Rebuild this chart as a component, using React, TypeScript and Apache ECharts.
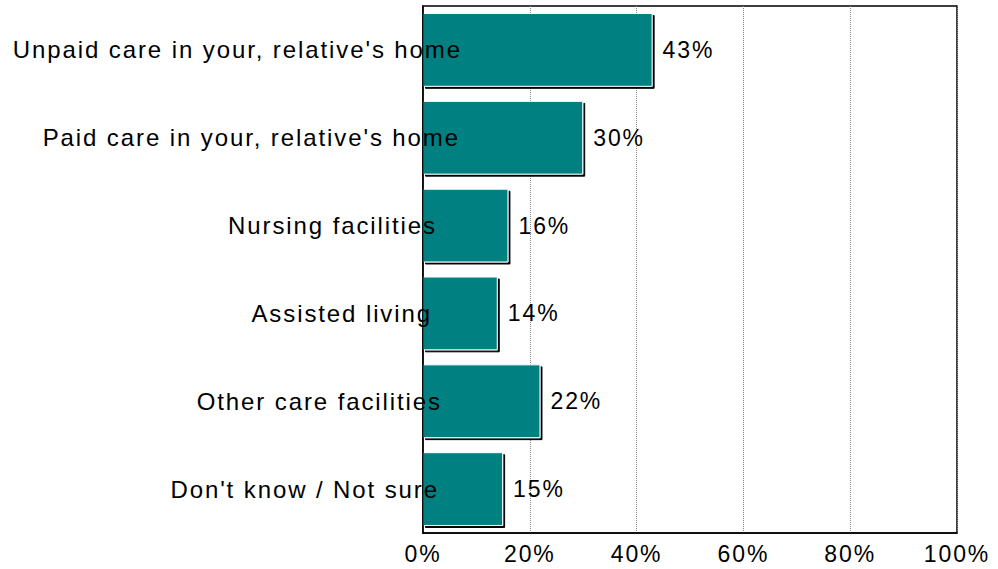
import React, { useEffect, useRef } from "react";
import * as echarts from "echarts";

const categories = [
  "Unpaid care in your, relative's home",
  "Paid care in your, relative's home",
  "Nursing facilities",
  "Assisted living",
  "Other care facilities",
  "Don't know / Not sure",
];
const values = [43, 30, 16, 14, 22, 15];
const labelShift = [0, 2, 25, 30, 20, 23];
const xTicks = [0, 20, 40, 60, 80, 100];

export default function App() {
  const ref = useRef<HTMLDivElement>(null);
  useEffect(() => {
    if (!ref.current) return;
    const chart = echarts.init(ref.current, undefined, { renderer: "svg" });
    const font = "Liberation Sans, Arial, sans-serif";
    chart.setOption({
      animation: false,
      backgroundColor: "#fff",
      grid: {
        left: 423,
        right: 41,
        top: 6,
        bottom: 36,
        show: true,
        borderColor: "#000",
        borderWidth: 1.5,
      },
      xAxis: {
        type: "value",
        min: xTicks[0],
        max: xTicks[xTicks.length - 1],
        interval: 20,
        axisLine: { show: true, lineStyle: { color: "#000", width: 1.5 } },
        axisTick: { show: false },
        axisLabel: {
          formatter: "{value}%",
          color: "#000",
          fontFamily: font,
          fontSize: 23,
          margin: 9,
        },
        splitLine: { show: true, lineStyle: { color: "#888", type: "dotted", width: 1 } },
      },
      yAxis: {
        type: "category",
        inverse: true,
        data: categories.map((c, i) => ({
          value: c,
          textStyle: { padding: [0, labelShift[i], 0, 0] },
        })),
        axisLine: { show: true, lineStyle: { color: "#000", width: 1.5 } },
        axisTick: { show: false },
        axisLabel: {
          interval: 0,
          color: "#000",
          fontFamily: font,
          fontSize: 24,
          margin: -39,
        },
        z: 10,
      },
      series: [
        {
          type: "bar",
          data: values,
          barWidth: "84%",
          itemStyle: {
            color: "#008080",
            borderColor: "#ffffff",
            borderWidth: 1,
            shadowColor: "#000",
            shadowOffsetX: 2,
            shadowOffsetY: 2,
            shadowBlur: 0,
          },
          label: {
            show: true,
            position: "right",
            distance: 10,
            formatter: "{c}%",
            color: "#000",
            fontFamily: font,
            fontSize: 23,
          },
          z: 2,
        },
      ],
    });
    return () => chart.dispose();
  }, []);
  return (
    <div
      ref={ref}
      style={{
        position: "fixed",
        left: 0,
        top: 0,
        width: 998,
        height: 569,
        letterSpacing: "1.9px",
      }}
    />
  );
}
